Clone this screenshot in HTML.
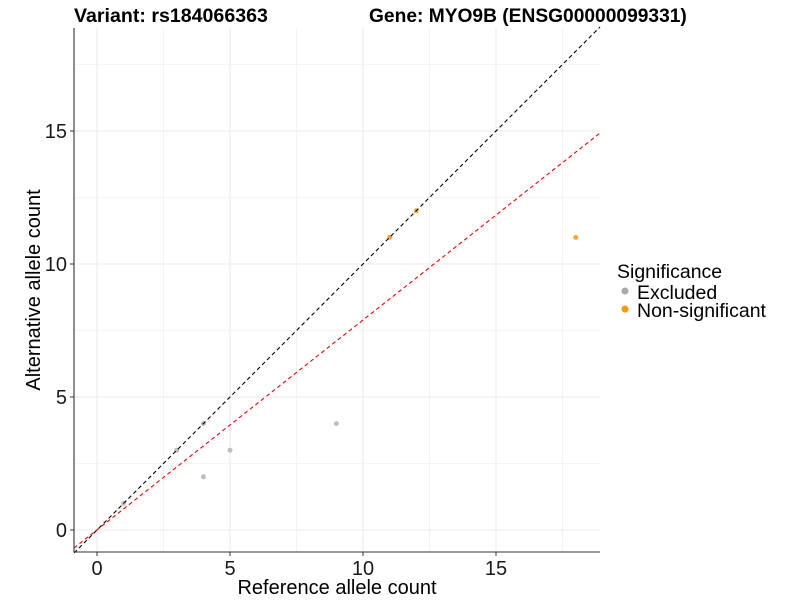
<!DOCTYPE html><html><head><style>body{margin:0;background:#fff}svg{font-family:"Liberation Sans",sans-serif}</style></head><body>
<svg width="800" height="600" xmlns="http://www.w3.org/2000/svg">
<rect width="800" height="600" fill="#fff"/>
<g stroke="#ebebeb" stroke-width="0.6">
<line x1="163.5" y1="28" x2="163.5" y2="552"/><line x1="296.5" y1="28" x2="296.5" y2="552"/><line x1="429.5" y1="28" x2="429.5" y2="552"/><line x1="562.5" y1="28" x2="562.5" y2="552"/>
<line x1="74" y1="463.5" x2="600" y2="463.5"/><line x1="74" y1="330.5" x2="600" y2="330.5"/><line x1="74" y1="197.5" x2="600" y2="197.5"/><line x1="74" y1="64.5" x2="600" y2="64.5"/>
</g>
<g stroke="#ebebeb" stroke-width="1.1">
<line x1="97" y1="28" x2="97" y2="552"/><line x1="230" y1="28" x2="230" y2="552"/><line x1="363" y1="28" x2="363" y2="552"/><line x1="496" y1="28" x2="496" y2="552"/>
<line x1="74" y1="530" x2="600" y2="530"/><line x1="74" y1="397" x2="600" y2="397"/><line x1="74" y1="264" x2="600" y2="264"/><line x1="74" y1="131" x2="600" y2="131"/>
</g>
<g fill="#bebebe">
<circle cx="123.6" cy="503.4" r="2.5"/><circle cx="176.8" cy="450.2" r="2.5"/><circle cx="203.4" cy="423.6" r="2.5"/><circle cx="203.4" cy="476.8" r="2.5"/><circle cx="230" cy="450.2" r="2.5"/><circle cx="336.4" cy="423.6" r="2.5"/>
</g>
<g fill="#ff9900" opacity="0.85">
<circle cx="389.6" cy="237.4" r="2.5"/><circle cx="416.2" cy="210.8" r="2.5"/><circle cx="575.8" cy="237.4" r="2.5"/>
</g>
<line x1="74" y1="553" x2="600" y2="27" stroke="#000" stroke-width="1.1" stroke-dasharray="4,3"/>
<line x1="74" y1="548" x2="600" y2="133" stroke="#ff0000" stroke-width="1.1" stroke-dasharray="4,3"/>
<line x1="74" y1="28" x2="74" y2="552" stroke="#333" stroke-width="1.1"/>
<line x1="74" y1="552" x2="600" y2="552" stroke="#333" stroke-width="1.1"/>
<g stroke="#333"><line x1="97" y1="552" x2="97" y2="556"/><line x1="230" y1="552" x2="230" y2="556"/><line x1="363" y1="552" x2="363" y2="556"/><line x1="496" y1="552" x2="496" y2="556"/>
<line x1="70" y1="530" x2="74" y2="530"/><line x1="70" y1="397" x2="74" y2="397"/><line x1="70" y1="264" x2="74" y2="264"/><line x1="70" y1="131" x2="74" y2="131"/></g>
<g font-size="20" fill="#1a1a1a" text-anchor="middle">
<text x="97" y="575">0</text><text x="230" y="575">5</text><text x="363" y="575">10</text><text x="496" y="575">15</text>
</g>
<g font-size="20" fill="#1a1a1a" text-anchor="end">
<text x="67" y="537">0</text><text x="67" y="404">5</text><text x="67" y="271">10</text><text x="67" y="138">15</text>
</g>
<text x="337" y="594" font-size="20" text-anchor="middle" fill="#000">Reference allele count</text>
<text transform="translate(40,290) rotate(-90)" font-size="20" text-anchor="middle" fill="#000">Alternative allele count</text>
<text x="74" y="22" font-size="19.6" font-weight="bold" fill="#000">Variant: rs184066363</text>
<text x="369" y="22" font-size="19.2" font-weight="bold" fill="#000">Gene: MYO9B (ENSG00000099331)</text>
<text x="617" y="278" font-size="19.5" fill="#000">Significance</text>
<circle cx="625" cy="291" r="3.5" fill="#aaaaaa"/><text x="637" y="299" font-size="19.5" fill="#000">Excluded</text>
<circle cx="625" cy="309" r="3.5" fill="#ff9900"/><text x="637" y="317" font-size="19.5" fill="#000">Non-significant</text>
</svg></body></html>
